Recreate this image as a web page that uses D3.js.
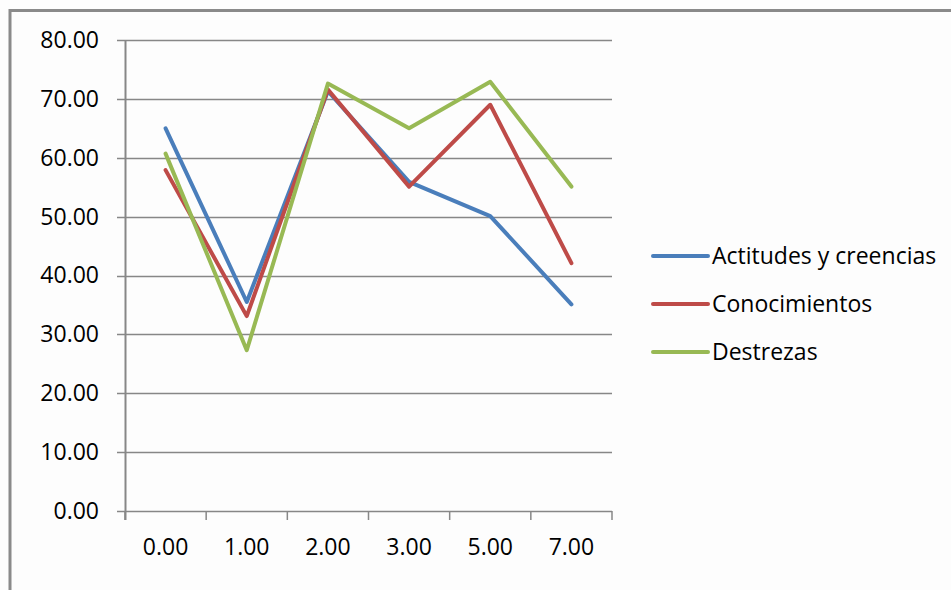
<!DOCTYPE html>
<html>
<head>
<meta charset="utf-8">
<script src="https://cdn.jsdelivr.net/npm/d3@7"></script>
<style>
  html, body { margin: 0; padding: 0; background: #fdfdfd; }
  svg { display: block; }
  text { font-family: "Open Sans", sans-serif; fill: #000; }
</style>
</head>
<body>
<svg id="chart" width="951" height="590"></svg>
<script>
// Categories along the x axis
const categories = ["0.00", "1.00", "2.00", "3.00", "5.00", "7.00"];

// Series values
const actitudes = [65.0, 35.5, 71.3, 55.9, 50.1, 35.1];
const conocimientos = [57.9, 33.1, 71.6, 55.1, 69.0, 42.1];
const destrezas = [60.7, 27.3, 72.6, 65.0, 72.9, 55.1];

const seriesNames = ["Actitudes y creencias", "Conocimientos", "Destrezas"];
const seriesColors = ["#4a7ebb", "#be4b48", "#98b954"];

// Y axis tick values
const yTicks = [0, 10, 20, 30, 40, 50, 60, 70, 80];

const series = [actitudes, conocimientos, destrezas].map((values, i) => ({
  name: seriesNames[i],
  color: seriesColors[i],
  values
}));

const svg = d3.select("#chart");

// Outer frame (top and left edges visible)
svg.append("path")
  .attr("d", "M10,951 L10,10.5 L951,10.5")
  .attr("fill", "none")
  .attr("stroke", "#8a8a8a")
  .attr("stroke-width", 3);

const plot = { left: 125, right: 612, top: 40, bottom: 511 };

const x = d3.scaleBand()
  .domain(categories)
  .range([plot.left, plot.right]);

const y = d3.scaleLinear()
  .domain([0, 80])
  .range([plot.bottom, plot.top]);

// Horizontal gridlines
svg.append("g")
  .selectAll("line")
  .data(yTicks)
  .join("line")
  .attr("x1", plot.left - 8)
  .attr("x2", plot.right)
  .attr("y1", d => Math.round(y(d)) + 0.5)
  .attr("y2", d => Math.round(y(d)) + 0.5)
  .attr("stroke", "#878787")
  .attr("stroke-width", 1.5);

// Y axis
const yAxis = svg.append("g")
  .attr("transform", `translate(${plot.left},0)`)
  .call(d3.axisLeft(y).tickValues(yTicks).tickFormat(d3.format(".2f")).tickSize(0).tickPadding(26));
yAxis.select(".domain").remove();
yAxis.selectAll("text")
  .style("font-size", "23px")
  .style("font-family", "'Open Sans', sans-serif")
  .attr("fill", "#000");

svg.append("line")
  .attr("x1", plot.left + 0.5).attr("x2", plot.left + 0.5)
  .attr("y1", plot.top).attr("y2", plot.bottom + 9)
  .attr("stroke", "#878787")
  .attr("stroke-width", 2);

// X axis with ticks at category boundaries
const boundaries = categories.map(c => x(c)).concat([plot.right]);
svg.append("g")
  .selectAll("line")
  .data(boundaries)
  .join("line")
  .attr("x1", d => d).attr("x2", d => d)
  .attr("y1", plot.bottom).attr("y2", plot.bottom + 9)
  .attr("stroke", "#878787")
  .attr("stroke-width", 1.5);

const xAxis = svg.append("g")
  .attr("transform", `translate(0,${plot.bottom})`)
  .call(d3.axisBottom(x).tickSize(0).tickPadding(28));
xAxis.select(".domain").remove();
xAxis.selectAll("text")
  .style("font-size", "23px")
  .style("font-family", "'Open Sans', sans-serif")
  .attr("fill", "#000");

// Series lines
const line = d3.line()
  .x((d, i) => x(categories[i]) + x.bandwidth() / 2)
  .y(d => y(d));

svg.append("g")
  .selectAll("path")
  .data(series)
  .join("path")
  .attr("d", d => line(d.values))
  .attr("fill", "none")
  .attr("stroke", d => d.color)
  .attr("stroke-width", 4)
  .attr("stroke-linejoin", "round")
  .attr("stroke-linecap", "round");

// Legend
const legendY = [256, 304, 352];
const legend = svg.append("g")
  .selectAll("g")
  .data(series)
  .join("g")
  .attr("transform", (d, i) => `translate(653,${legendY[i]})`);

legend.append("line")
  .attr("x1", 0).attr("x2", 55)
  .attr("stroke", d => d.color)
  .attr("stroke-width", 4)
  .attr("stroke-linecap", "round");

legend.append("text")
  .attr("x", 59)
  .attr("dy", "0.35em")
  .style("font-size", "23px")
  .text(d => d.name);
</script>
</body>
</html>
